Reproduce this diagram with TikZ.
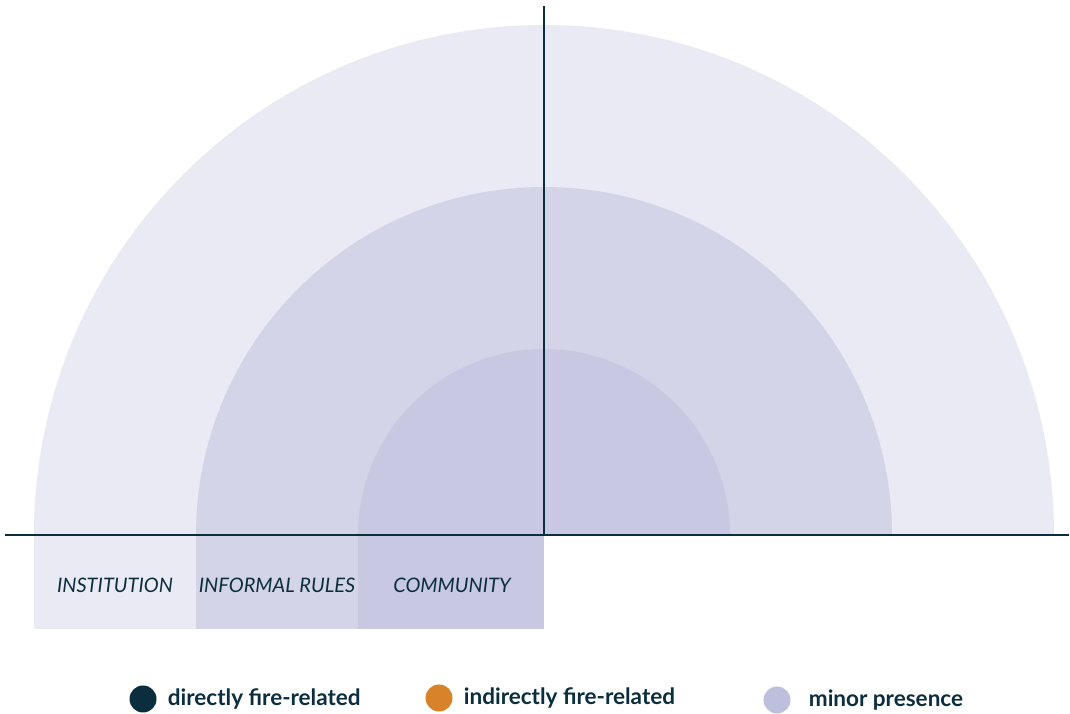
\documentclass[tikz,border=0pt]{standalone}
\usepackage{fontspec}
\setmainfont{Lato}
\usetikzlibrary{positioning}

\definecolor{linecolor}{RGB}{11,46,62}
\definecolor{institutioncolor}{RGB}{234,234,244}
\definecolor{informalcolor}{RGB}{212,212,232}
\definecolor{communitycolor}{RGB}{200,200,227}
\definecolor{directcolor}{RGB}{11,46,62}
\definecolor{indirectcolor}{RGB}{216,130,42}
\definecolor{minorcolor}{RGB}{190,190,221}

\tikzset{
  %% axis : the two crossing lines
  axis/.style={
    linecolor,
    line width=2pt
  },
  %% level : label of one ring, under the axis
  level/.style={
    text=linecolor,
    font=\itshape\fontsize{20}{22}\selectfont,
    inner sep=0pt
  },
  %% legenddot : coloured dot of the legend
  legenddot/.style={
    circle,
    minimum size=27pt,
    inner sep=0pt
  },
  %% legendtext : text of the legend
  legendtext/.style={
    text=linecolor,
    font=\bfseries\fontsize{22.5}{24}\selectfont,
    inner sep=0pt,
    anchor=west
  }
}

\begin{document}
\begin{tikzpicture}
  [x=1pt,
  y=1pt,
  node distance=11pt]

  \useasboundingbox (0,0) rectangle (1070,714);

  \coordinate (centre) at (544,179);

  %% rings, largest first
  \fill [institutioncolor] (34,179) arc (180:0:510) -- cycle;
  \fill [institutioncolor] (34,85) rectangle (centre);

  \fill [informalcolor] (196,179) arc (180:0:348) -- cycle;
  \fill [informalcolor] (196,85) rectangle (centre);

  \fill [communitycolor] (358,179) arc (180:0:186) -- cycle;
  \fill [communitycolor] (358,85) rectangle (centre);


  %% axes
  \coordinate (axis_left) at (5,179);
  \coordinate (axis_right) at (1069,179);
  \coordinate (axis_top) at (544,708);
  \draw [axis] (axis_left) -- (axis_right);
  \draw [axis] (axis_top) -- (centre);


  %% ring labels
  \node (institution) [level] at (115,129) {INSTITUTION};
  \node (informal) [level] at (277,129) {INFORMAL RULES};
  \node (community) [level] at (452,129) {COMMUNITY};


  %% legend
  \node (dot_direct) [legenddot, fill=directcolor] at (143,15) {};
  \node (direct) [legendtext, right=of dot_direct] {directly fire-related};

  \node (dot_indirect) [legenddot, fill=indirectcolor] at (439,16) {};
  \node (indirect) [legendtext, right=of dot_indirect] {indirectly fire-related};

  \node (dot_minor) [legenddot, fill=minorcolor] at (777,14) {};
  \node (minor) [legendtext, right=18pt of dot_minor] {minor presence};

\end{tikzpicture}
\end{document}
